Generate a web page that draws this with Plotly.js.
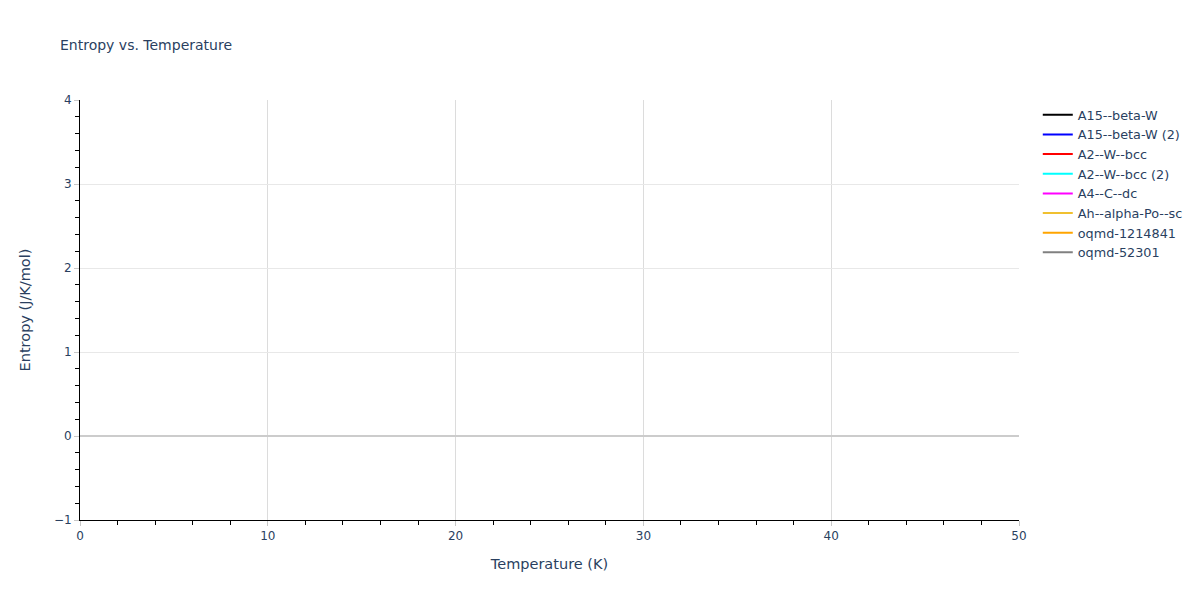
<!DOCTYPE html>
<html>
<head>
<meta charset="utf-8">
<script src="https://cdn.plot.ly/plotly-3.0.1.min.js"></script>
<style>
  html, body { margin: 0; padding: 0; background: #fff; }
  #chart { width: 1200px; height: 600px; }
</style>
</head>
<body>
<div id="chart"></div>
<script>
// phases shown in the legend
var phases = ["A15--beta-W", "A15--beta-W (2)", "A2--W--bcc", "A2--W--bcc (2)",
              "A4--C--dc", "Ah--alpha-Po--sc", "oqmd-1214841", "oqmd-52301"];
var colors = ["black", "blue", "red", "cyan", "magenta", "#f0c030", "orange", "gray"];

// nothing is drawn inside the visible window, so each series holds one empty point
var temperature = [[null], [null], [null], [null], [null], [null], [null], [null]];
var entropy = [[null], [null], [null], [null], [null], [null], [null], [null]];

var traces = [];
for (var i = 0; i < phases.length; i++) {
    traces.push({
        x: temperature[i],
        y: entropy[i],
        type: "scatter",
        mode: "lines",
        name: phases[i],
        line: {color: colors[i], width: 2},
        showlegend: true
    });
}

var layout = {
    width: 1200,
    height: 600,
    margin: {l: 80, t: 100, b: 80, r: 80},
    font: {family: "DejaVu Sans, Verdana, sans-serif", size: 12, color: "#2a3f5f"},
    title: {text: "Entropy vs. Temperature", x: 0.05, xanchor: "left", font: {size: 14}},
    plot_bgcolor: "white",
    paper_bgcolor: "white",
    xaxis: {
        title: {text: "Temperature (K)", font: {size: 14.5}, standoff: 16},
        automargin: true,
        range: [0, 50],
        dtick: 10,
        showline: true,
        linecolor: "black",
        gridcolor: "#dcdcdc",
        ticks: "outside",
        tickcolor: "#c8c8c8",
        zeroline: false,
        minor: {ticks: "outside", dtick: 2, tickcolor: "black", ticklen: 4, showgrid: false}
    },
    yaxis: {
        title: {text: "Entropy (J/K/mol)", font: {size: 14.5}, standoff: 19},
        automargin: true,
        range: [-1, 4],
        dtick: 1,
        showline: true,
        linecolor: "black",
        gridcolor: "#e8e8e8",
        ticks: "outside",
        tickcolor: "#c8c8c8",
        zeroline: true,
        zerolinecolor: "#cccccc",
        zerolinewidth: 2,
        minor: {ticks: "outside", dtick: 0.2, tickcolor: "black", ticklen: 4, showgrid: false}
    },
    legend: {x: 1.02, y: 1, font: {size: 12.8}}
};

Plotly.newPlot("chart", traces, layout, {displayModeBar: false});
</script>
</body>
</html>
